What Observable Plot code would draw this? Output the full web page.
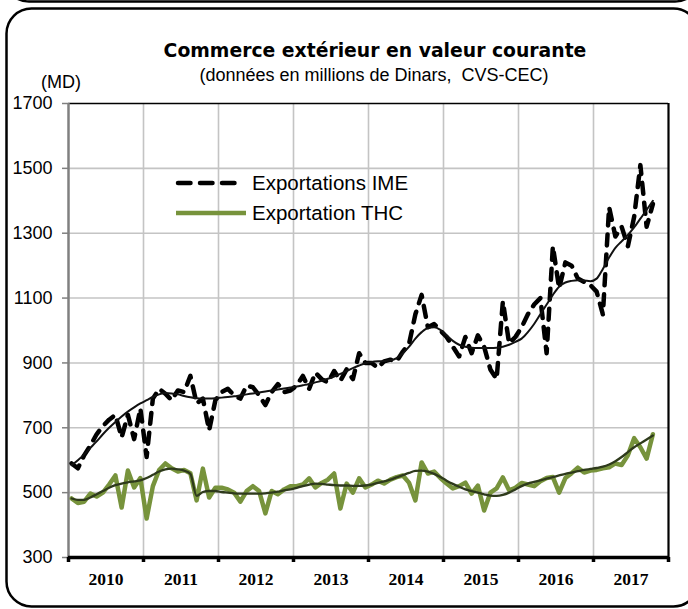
<!DOCTYPE html>
<html><head><meta charset="utf-8">
<script src="https://cdn.jsdelivr.net/npm/d3@7"></script>
<script src="https://cdn.jsdelivr.net/npm/@observablehq/plot@0.6"></script>
<style>
body{margin:0;background:#fff;}
#wrap{position:relative;width:688px;height:609px;overflow:hidden;background:#fff;}
#wrap svg{position:absolute;left:0;top:0;}
#deco{pointer-events:none;}
</style>
</head><body>
<div id="wrap"></div>
<script>
const years = ["2010","2011","2012","2013","2014","2015","2016","2017"];
const yTicks = [300,500,700,900,1100,1300,1500,1700];
const seriesNames = ["Exportations IME","Exportation THC"];

// Monthly values, Jan 2010 .. Oct 2017 (millions of dinars)
const imeValues = [
  590,575,615,645,680,705,725,740,670,740,665,760,
  610,790,820,805,785,815,810,860,775,790,692,785,
  810,820,800,790,830,825,800,770,810,835,810,815,
  830,860,820,870,850,840,875,845,880,850,930,900,
  900,885,905,910,905,935,960,1050,1110,1010,1020,1000,
  980,950,920,980,930,985,950,880,850,1090,960,980,
  1010,1050,1080,1100,930,1260,1130,1210,1200,1160,1150,1140,
  1120,1050,1380,1290,1320,1260,1350,1510,1320,1390
];
const imeTrend = [
  585,600,618,638,658,680,700,718,735,750,763,775,
  785,795,803,807,806,803,798,794,791,790,790,791,
  793,795,797,800,803,806,809,812,815,818,821,824,
  827,831,835,840,845,851,858,866,875,884,892,899,
  903,905,906,908,915,930,950,975,995,1008,1010,1002,
  985,968,956,950,947,946,946,946,947,950,956,965,
  975,995,1020,1050,1080,1110,1135,1148,1153,1155,1154,1152,
  1160,1190,1225,1255,1275,1295,1318,1345,1372,1400
];
const thcValues = [
  482,468,472,497,488,500,525,553,454,568,516,545,
  420,520,570,590,575,565,570,560,476,574,485,515,
  515,510,500,472,505,520,505,436,505,495,510,520,
  520,525,544,516,530,540,559,451,528,500,544,516,
  525,537,528,540,548,553,530,476,593,559,565,545,
  528,513,520,531,497,522,445,500,513,547,507,515,
  530,525,520,535,545,548,500,545,560,577,562,568,
  570,575,578,590,585,615,668,640,605,680
];
const thcTrend = [
  482,478,478,485,495,505,515,523,528,532,535,538,
  545,555,565,572,574,572,568,558,490,502,505,505,
  502,500,498,497,497,497,497,498,500,503,507,510,
  515,520,525,528,527,525,523,522,522,521,521,522,
  525,530,535,540,547,554,561,567,568,565,558,548,
  537,527,518,510,505,500,495,491,490,493,500,510,
  520,528,533,538,543,548,553,558,562,566,570,573,
  576,580,587,597,610,625,640,652,664,676
];

const toRows = arr => arr.map((v,i) => ({m: i + 0.5, v}));
const ime = toRows(imeValues), imeT = toRows(imeTrend);
const thc = toRows(thcValues), thcT = toRows(thcTrend);
const yearCenters = years.map((y,i) => i*12 + 6);
const yearBounds = d3.range(0, years.length*12 + 1, 12);
const innerBounds = yearBounds.slice(1, -1);
const gridY = yTicks.slice(1, -1);

const chart = Plot.plot({
  width: 688, height: 609,
  marginLeft: 68, marginRight: 20, marginTop: 103, marginBottom: 52,
  style: {fontFamily: "'Liberation Sans', Arial, sans-serif", fontSize: "18px", background: "transparent", overflow: "visible"},
  x: {domain: [0, years.length*12], axis: null, label: null},
  y: {domain: [300, 1700], axis: null, label: null},
  marks: [
    Plot.gridY(gridY, {stroke: "#c4c4c4", strokeOpacity: 1, strokeWidth: 1.6}),
    Plot.gridX(innerBounds, {stroke: "#c4c4c4", strokeOpacity: 1, strokeWidth: 1.6}),
    Plot.ruleY([1700], {stroke: "#000", strokeWidth: 1.5}),
    Plot.ruleX([years.length*12], {stroke: "#000", strokeWidth: 2.2}),
    Plot.ruleX([0], {stroke: "#808080", strokeWidth: 2.5}),
    Plot.axisY({ticks: yTicks, label: null, tickSize: 6, tickPadding: 10, stroke: "#808080", strokeWidth: 1.5, fill: "#000", fontSize: 18, tickFormat: d => String(d)}),
    Plot.axisX({ticks: yearBounds, label: null, tickSize: 5, tickPadding: 0, stroke: "#000", strokeWidth: 3.5, tickFormat: () => ""}),
    Plot.axisX({ticks: yearCenters, label: null, tickSize: 0, tickPadding: 15, fill: "#000",
      tickFormat: d => years[Math.round((d-6)/12)],
      fontFamily: "'Liberation Serif', 'Times New Roman', serif", fontWeight: "bold", fontSize: 17.5}),
    Plot.line(thc, {x: "m", y: "v", stroke: "#77933c", strokeWidth: 4.5, strokeLinejoin: "round", strokeLinecap: "round"}),
    Plot.line(thcT, {x: "m", y: "v", stroke: "#2e3a1c", strokeWidth: 2.3, strokeLinejoin: "round", curve: "monotone-x"}),
    Plot.line(ime, {x: "m", y: "v", stroke: "#000", strokeWidth: 4.5, strokeDasharray: "11,9", strokeLinecap: "round", strokeLinejoin: "round"}),
    Plot.line(imeT, {x: "m", y: "v", stroke: "#111", strokeWidth: 2, strokeLinejoin: "round", curve: "monotone-x"}),
    Plot.ruleY([300], {stroke: "#000", strokeWidth: 3.5})
  ]
});
const wrap = document.getElementById("wrap");
wrap.appendChild(chart);

const ns = "http://www.w3.org/2000/svg";
const deco = document.createElementNS(ns, "svg");
deco.setAttribute("id", "deco");
deco.setAttribute("width", 688);
deco.setAttribute("height", 609);
deco.innerHTML = `
  <rect x="4" y="-620" width="696" height="621.5" rx="25" fill="none" stroke="#000" stroke-width="2.5"/>
  <rect x="6.5" y="8.5" width="692" height="598" rx="25" fill="none" stroke="#000" stroke-width="2.5"/>
  <text x="375" y="57" text-anchor="middle" font-family="'DejaVu Sans', Verdana, sans-serif" font-weight="bold" font-size="18.8" fill="#000">Commerce extérieur en valeur courante</text>
  <text x="374" y="81" text-anchor="middle" font-family="'Liberation Sans', Arial, sans-serif" font-size="18" fill="#000" xml:space="preserve">(données en millions de Dinars,  CVS-CEC)</text>
  <text x="41" y="88" font-family="'Liberation Sans', Arial, sans-serif" font-size="18" fill="#000">(MD)</text>
  <line x1="178" y1="183" x2="244" y2="183" stroke="#000" stroke-width="4.5" stroke-dasharray="12.5,9.5" stroke-linecap="round"/>
  <text x="252" y="190" font-family="'Liberation Sans', Arial, sans-serif" font-size="20.5" fill="#000">${seriesNames[0]}</text>
  <line x1="176" y1="213" x2="246" y2="213" stroke="#77933c" stroke-width="4.5"/>
  <text x="252" y="220" font-family="'Liberation Sans', Arial, sans-serif" font-size="20.5" fill="#000">${seriesNames[1]}</text>
`;
wrap.appendChild(deco);
</script>
</body></html>
